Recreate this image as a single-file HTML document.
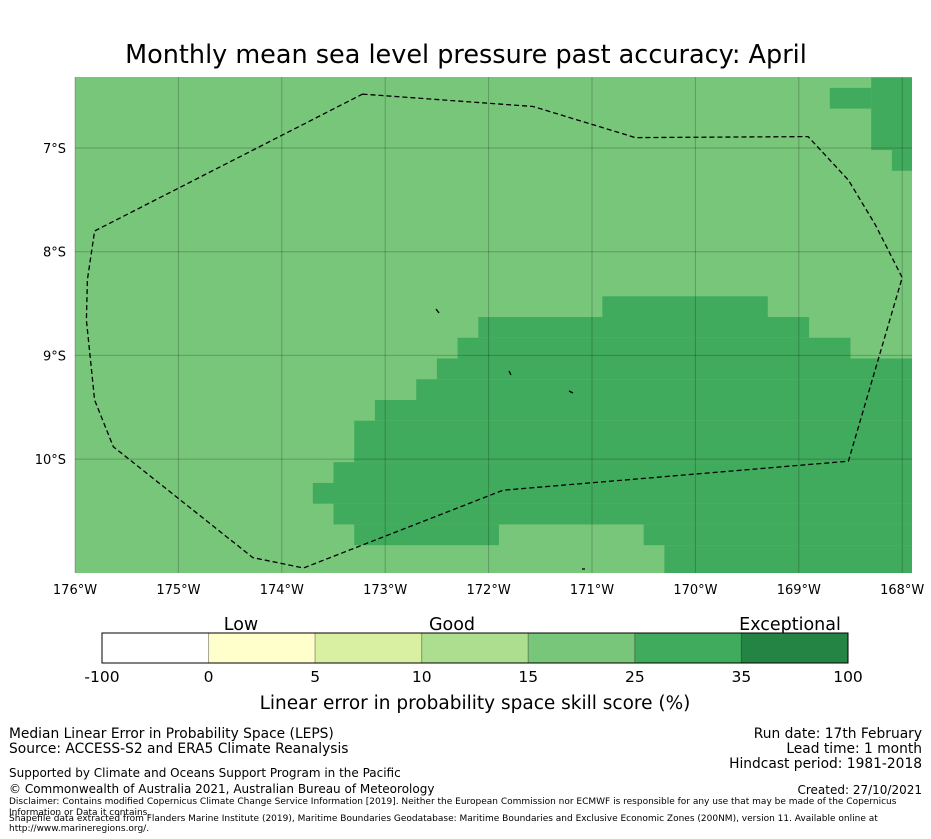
<!DOCTYPE html>
<html><head><meta charset="utf-8"><style>
body{margin:0;background:#fff;font-family:"DejaVu Sans","Liberation Sans",sans-serif;}
svg{display:block}
</style></head><body>
<svg id="chart" width="931" height="839" viewBox="0 0 931 839">
<text x="466" y="63" text-anchor="middle" font-size="25.5" fill="#000">Monthly mean sea level pressure past accuracy: April</text>
<g id="map"></g>
<g id="axes"></g>
<g id="cbar"></g>
<text x="475" y="709" text-anchor="middle" font-size="18.5">Linear error in probability space skill score (%)</text>
<g font-size="13.8">
<text x="9" y="738">Median Linear Error in Probability Space (LEPS)</text>
<text x="9" y="753">Source: ACCESS-S2 and ERA5 Climate Reanalysis</text>
</g>
<text x="9" y="777" font-size="12">Supported by Climate and Oceans Support Program in the Pacific</text>
<text x="9" y="793" font-size="12">© Commonwealth of Australia 2021, Australian Bureau of Meteorology</text>
<g font-size="13.8" text-anchor="end">
<text x="922" y="738">Run date: 17th February</text>
<text x="922" y="753">Lead time: 1 month</text>
<text x="922" y="768">Hindcast period: 1981-2018</text>
<text x="922" y="794" font-size="12">Created: 27/10/2021</text>
</g>
<g font-size="9">
<text x="9" y="804">Disclaimer: Contains modified Copernicus Climate Change Service Information [2019]. Neither the European Commission nor ECMWF is responsible for any use that may be made of the Copernicus</text>
<text x="9" y="815">Information or Data it contains.</text>
<text x="9" y="821">Shapefile data extracted from Flanders Marine Institute (2019), Maritime Boundaries Geodatabase: Maritime Boundaries and Exclusive Economic Zones (200NM), version 11. Available online at</text>
<text x="9" y="831">http://www.marineregions.org/.</text>
</g>
</svg>
<script>
// Dark-category (25-35) cells as [lonWest, lonEast, latTop, latBottom]
const darkLonW = [-170.9,-172.1,-172.3,-172.5,-172.7,-173.1,-173.3,-173.5,-173.7,-173.5,-173.3,-170.5,-170.3,-168.7,-168.3,-168.1];
const darkLonE = [-169.3,-168.9,-168.5,-167.9,-167.9,-167.9,-167.9,-167.9,-167.9,-167.9,-171.9,-167.9,-167.9,-168.3,-167.9,-167.9];
const darkLatT = [-8.43,-8.63,-8.83,-9.03,-9.23,-9.43,-9.63,-10.03,-10.23,-10.43,-10.63,-10.63,-10.83,-6.42,-6.32,-7.02];
const darkLatB = [-8.63,-8.83,-9.03,-9.23,-9.43,-9.63,-10.03,-10.23,-10.43,-10.63,-10.83,-10.83,-11.11,-6.62,-7.02,-7.22];
// EEZ boundary
const eezLon = [-173.22,-171.57,-170.58,-168.91,-168.52,-168.26,-168.00,-168.52,-171.86,-173.79,-174.28,-175.63,-175.81,-175.89,-175.88,-175.81];
const eezLat = [-6.48,-6.60,-6.90,-6.89,-7.31,-7.74,-8.25,-10.02,-10.30,-11.05,-10.95,-9.88,-9.43,-8.66,-8.27,-7.80];
const lonTicks = [-176,-175,-174,-173,-172,-171,-170,-169,-168];
const latTicks = [-7,-8,-9,-10];
const cbBounds = ["-100","0","5","10","15","25","35","100"];
const cbColors = ["#ffffff","#ffffcc","#d9f0a3","#addd8e","#78c679","#41ab5d","#238443"];

const NS="http://www.w3.org/2000/svg";
const X0=75,X1=912,Y0=77,Y1=573;
const xs=lon=>75+(lon+176)*103.4;
const ys=lat=>148+(-lat-7)*103.7;
function mk(tag,attrs,parent){const e=document.createElementNS(NS,tag);for(const k in attrs)e.setAttribute(k,attrs[k]);parent.appendChild(e);return e;}
const map=document.getElementById('map');
let bg=mk('rect',{x:X0,y:Y0,width:X1-X0,height:Y1-Y0,fill:'#78c679'},map);


for(let i=0;i<darkLonW.length;i++){
  const x=Math.max(X0,xs(darkLonW[i])),x2=Math.min(X1,xs(darkLonE[i]));
  const y=Math.max(Y0,ys(darkLatT[i])),y2=Math.min(Y1,ys(darkLatB[i]));
  const r=mk('rect',{x:x,y:y,width:x2-x,height:y2-y,fill:'#41ab5d'},map);
  
  
}
lonTicks.forEach(l=>{const g=mk('line',{x1:xs(l),x2:xs(l),y1:Y0,y2:Y1,stroke:'#000','stroke-opacity':0.22,'stroke-width':1},map);
  
  });
latTicks.forEach(l=>{const g=mk('line',{x1:X0,x2:X1,y1:ys(l),y2:ys(l),stroke:'#000','stroke-opacity':0.22,'stroke-width':1},map);
  
  });
[[436,309,439,313],[509,371,511,375],[569,391,573,393],[582,569,585,569]].forEach(p=>{const l=mk('line',{x1:p[0],y1:p[1],x2:p[2],y2:p[3],stroke:'#000','stroke-width':1.3},map);
  
  });
const pts=eezLon.map((l,i)=>xs(l).toFixed(1)+','+ys(eezLat[i]).toFixed(1)).join(' ');
const eez=mk('polygon',{points:pts,fill:'none',stroke:'#000','stroke-width':1.3,'stroke-dasharray':'5,3'},map);


const axes=document.getElementById('axes');
lonTicks.forEach(l=>{const t=mk('text',{x:xs(l),y:594,'text-anchor':'middle','font-size':13},axes);t.textContent=(-l)+'°W';
  
  });
latTicks.forEach(l=>{const t=mk('text',{x:66,y:ys(l)+5,'text-anchor':'end','font-size':13},axes);t.textContent=(-l)+'°S';
  
  });
const cb=document.getElementById('cbar');
const cbX=102,cbW=746,cbY=633,cbH=30,seg=cbW/cbColors.length;
cbColors.forEach((c,i)=>{const r=mk('rect',{x:cbX+i*seg,y:cbY,width:seg,height:cbH,fill:c,stroke:'rgba(0,0,0,0.25)','stroke-width':1},cb);
  
  });
const fr=mk('rect',{x:cbX,y:cbY,width:cbW,height:cbH,fill:'none',stroke:'#000','stroke-width':1},cb);


cbBounds.forEach((b,i)=>{const t=mk('text',{x:cbX+i*seg,y:682,'text-anchor':'middle','font-size':15.5},cb);t.textContent=b;
  
  });
[["Low",241],["Good",452],["Exceptional",790]].forEach(p=>{const t=mk('text',{x:p[1],y:630,'text-anchor':'middle','font-size':17.5},cb);t.textContent=p[0];
  
  });
</script>
</body></html>
